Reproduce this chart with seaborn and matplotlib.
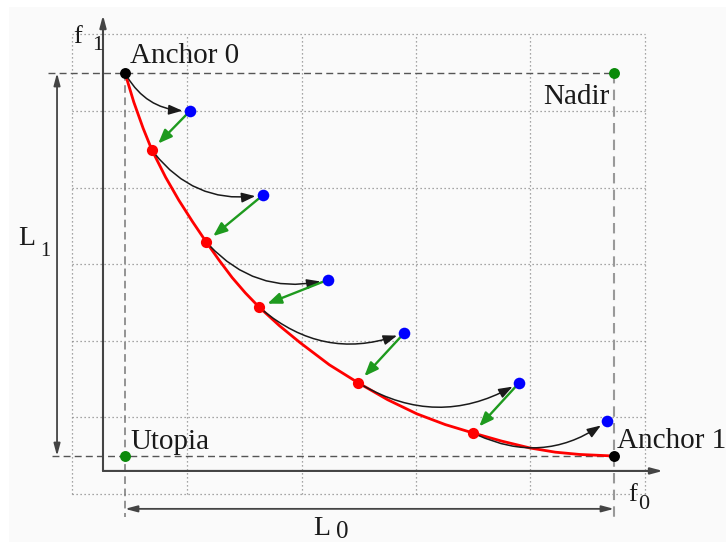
import matplotlib
matplotlib.use("Agg")
import matplotlib.pyplot as plt
import seaborn as sns
from matplotlib.patches import FancyArrowPatch, Rectangle

# ---------------- data (normalised objective space, utopia = (0, 0)) ----------------
front_f0 = [0.000, 0.018, 0.037, 0.055, 0.083, 0.110, 0.138, 0.166, 0.192, 0.219, 0.246,
            0.274, 0.316, 0.358, 0.418, 0.477, 0.537, 0.597, 0.655, 0.712, 0.770, 0.828,
            0.880, 0.930, 1.000]
front_f1 = [1.000, 0.924, 0.856, 0.799, 0.728, 0.668, 0.612, 0.559, 0.512, 0.466, 0.426,
            0.389, 0.340, 0.296, 0.238, 0.191, 0.147, 0.110, 0.082, 0.060, 0.039, 0.021,
            0.010, 0.004, 0.000]

pareto_f0 = [0.055, 0.166, 0.274, 0.477, 0.712]
pareto_f1 = [0.799, 0.559, 0.389, 0.191, 0.060]

chim_f0 = [0.133, 0.282, 0.415, 0.571, 0.806, 0.986]
chim_f1 = [0.901, 0.681, 0.460, 0.321, 0.191, 0.091]

anchor_f0 = [0.0, 1.0]
anchor_f1 = [1.0, 0.0]
anchor_labels = ["Anchor 0", "Anchor 1"]

ref_f0 = [0.0, 1.0]
ref_f1 = [0.0, 1.0]
ref_labels = ["Utopia", "Nadir"]

grid_f0 = [-0.108, 0.127, 0.362, 0.595, 0.828, 1.063]
grid_f1 = [-0.099, 0.102, 0.300, 0.501, 0.700, 0.901, 1.102]

axis_origin = (-0.045, -0.039)
axis_end = (1.100, 1.151)

# ---------------- style ----------------
sns.set_theme(style="white")
plt.rcParams["font.family"] = ["Liberation Serif", "DejaVu Serif"]

fig = plt.figure(figsize=(7.26, 5.42), dpi=100)
fig.patch.set_facecolor("white")
ax = fig.add_axes([0, 0, 1, 1])
ax.set_xlim(-125 / 489, 601 / 489)
ax.set_ylim(-86 / 383, 456 / 383)
ax.axis("off")

ax.add_patch(Rectangle((9 / 726, 0), 1, 535 / 542, transform=fig.transFigure,
                       facecolor="#fafafa", edgecolor="none", zorder=-10, clip_on=False))

# dotted grid
for gx in grid_f0:
    ax.plot([gx, gx], [grid_f1[0], grid_f1[-1]], color="#8a8a8a", lw=0.9,
            ls=(0, (1, 2.2)), zorder=0)
for gy in grid_f1:
    ax.plot([grid_f0[0], grid_f0[-1]], [gy, gy], color="#8a8a8a", lw=0.9,
            ls=(0, (1, 2.2)), zorder=0)

# dashed reference lines
dash = (0, (5, 3))
ax.plot([-0.157, ref_f0[1]], [anchor_f1[0], anchor_f1[0]], color="#555555", lw=1.0, ls=dash, zorder=1)
ax.plot([-0.149, anchor_f0[1]], [anchor_f1[1], anchor_f1[1]], color="#555555", lw=1.0, ls=dash, zorder=1)
ax.plot([anchor_f0[0], anchor_f0[0]], [anchor_f1[0], -0.159], color="#777777", lw=1.1, ls=dash, zorder=1)
ax.plot([anchor_f0[1], anchor_f0[1]], [ref_f1[1], -0.159], color="#999999", lw=1.5, ls=dash, zorder=1)

# axes with arrows
axis_kw = dict(arrowstyle="-|>,head_length=0.6,head_width=0.16", mutation_scale=12,
               color="#444444", lw=1.5, shrinkA=0, shrinkB=0, zorder=2)
ax.add_patch(FancyArrowPatch(axis_origin, (axis_origin[0], axis_end[1]), **axis_kw))
ax.add_patch(FancyArrowPatch(axis_origin, (axis_end[0], axis_origin[1]), **axis_kw))

# L0 / L1 span arrows
span_kw = dict(arrowstyle="<|-|>,head_length=0.6,head_width=0.16", mutation_scale=12,
               color="#444444", lw=1.3, shrinkA=0, shrinkB=0, zorder=2)
ax.add_patch(FancyArrowPatch((-0.139, anchor_f1[1]), (-0.139, anchor_f1[0]), **span_kw))
ax.add_patch(FancyArrowPatch((anchor_f0[0], -0.138), (anchor_f0[1], -0.138), **span_kw))

# Pareto front curve
sns.lineplot(x=front_f0, y=front_f1, sort=False, estimator=None, color="red",
             lw=2.0, ax=ax, zorder=3)

# black curved arrows: anchor 0 / pareto points -> next CHIM point
src_f0 = [anchor_f0[0]] + pareto_f0
src_f1 = [anchor_f1[0]] + pareto_f1
for i in range(len(chim_f0)):
    ax.add_patch(FancyArrowPatch((src_f0[i], src_f1[i]), (chim_f0[i], chim_f1[i]),
                                 connectionstyle="arc3,rad=0.3",
                                 arrowstyle="-|>,head_length=0.55,head_width=0.2",
                                 mutation_scale=15, color="#1a1a1a", lw=1.1,
                                 shrinkA=3, shrinkB=5.5, zorder=4))

# green arrows: CHIM point -> pareto point
for i in range(len(pareto_f0)):
    ax.add_patch(FancyArrowPatch((chim_f0[i], chim_f1[i]), (pareto_f0[i], pareto_f1[i]),
                                 arrowstyle="-|>,head_length=0.55,head_width=0.22",
                                 mutation_scale=15, color="#1e9a1e", lw=1.7,
                                 shrinkA=0, shrinkB=6.5, zorder=4))

# points
sns.scatterplot(x=pareto_f0, y=pareto_f1, color="red", s=65, linewidth=0, ax=ax, zorder=5)
sns.scatterplot(x=chim_f0, y=chim_f1, color="blue", s=70, linewidth=0, ax=ax, zorder=5)
sns.scatterplot(x=anchor_f0, y=anchor_f1, color="black", s=62, linewidth=0, ax=ax, zorder=5)
sns.scatterplot(x=ref_f0, y=ref_f1, color="#0a8a0a", s=62, linewidth=0, ax=ax, zorder=5)

# labels
txt = dict(fontsize=21, color="#1a1a1a", va="baseline", textcoords="offset points")
ax.annotate(anchor_labels[0], (anchor_f0[0], anchor_f1[0]), xytext=(3.6, 7), ha="left", **txt)
ax.annotate(anchor_labels[1], (anchor_f0[1], anchor_f1[1]), xytext=(2.4, 5.8), ha="left", **txt)
ax.annotate(ref_labels[0], (ref_f0[0], ref_f1[0]), xytext=(3.6, 5), ha="left", **txt)
ax.annotate(ref_labels[1], (ref_f0[1], ref_f1[1]), xytext=(-3.6, -22.3), ha="right", **txt)

lab = dict(color="#1a1a1a", va="baseline", ha="left")
ax.text(-0.1063, 1.0783, "f", fontsize=19, **lab)
ax.text(-0.0675, 1.0601, "1", fontsize=16, **lab)
ax.text(1.0286, -0.1175, "f", fontsize=19, **lab)
ax.text(1.0491, -0.1384, "0", fontsize=16, **lab)
ax.text(-0.2188, 0.5509, "L", fontsize=20, **lab)
ax.text(-0.1738, 0.5222, "1", fontsize=14.5, **lab)
ax.text(0.3845, -0.2063, "L", fontsize=20, **lab)
ax.text(0.4315, -0.2130, "0", fontsize=18, **lab)

fig.savefig("out.png", dpi=100, facecolor=fig.get_facecolor())
